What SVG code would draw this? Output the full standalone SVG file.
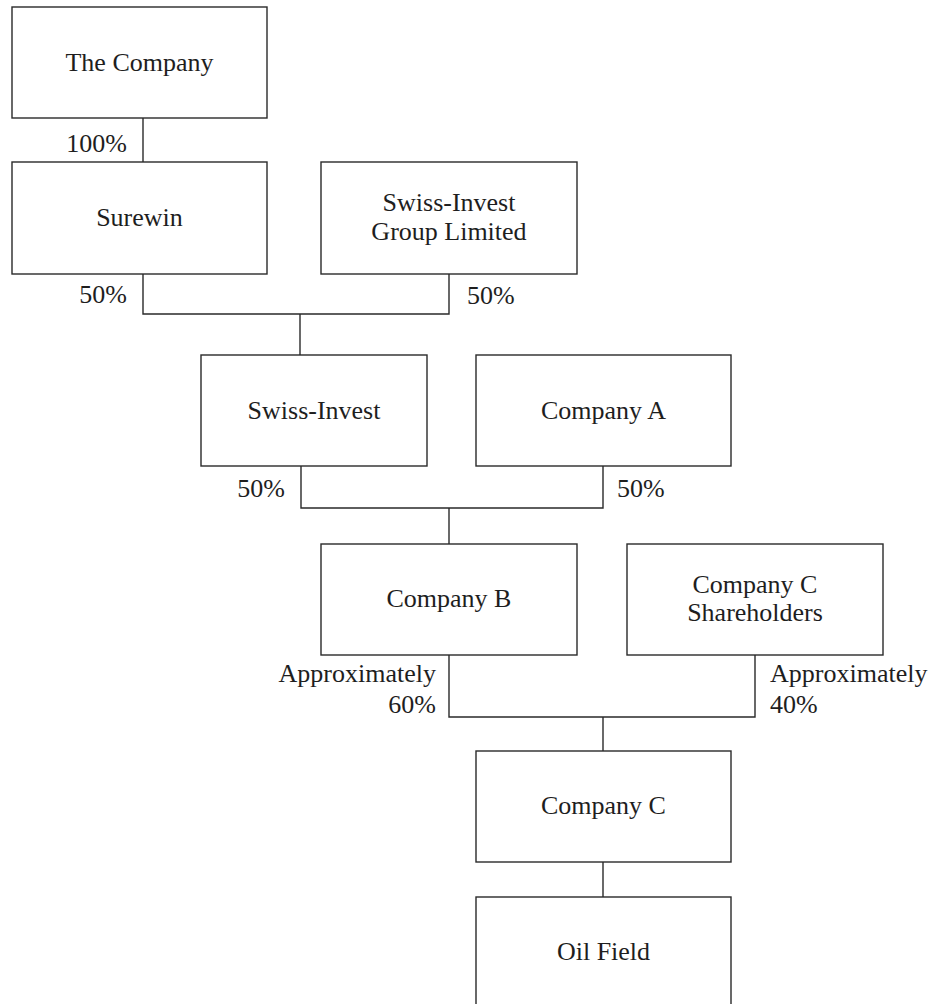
<svg xmlns="http://www.w3.org/2000/svg" width="932" height="1004" viewBox="0 0 932 1004">
<style>
.box{fill:#fff;stroke:#2a2a2a;stroke-width:1.4}
.ln{fill:none;stroke:#2a2a2a;stroke-width:1.4}
text{font-family:"Liberation Serif","Times New Roman",serif;font-size:26px;fill:#1e1e1e}
.c{text-anchor:middle}
.r{text-anchor:end}
</style>
<rect width="932" height="1004" fill="#fff"/>
<g id="connectors">
<path class="ln" d="M143,118V162"/>
<path class="ln" d="M143,274V314H449V274"/>
<path class="ln" d="M300,314V355"/>
<path class="ln" d="M301,466V508H603V466"/>
<path class="ln" d="M449,508V544"/>
<path class="ln" d="M449,655V717H755V655"/>
<path class="ln" d="M603,717V751"/>
<path class="ln" d="M603,862V897"/>
</g>
<g id="labels">
<text class="r" x="127" y="152">100%</text>
<text class="r" x="127" y="303">50%</text>
<text x="467" y="304">50%</text>
<text class="r" x="285" y="497">50%</text>
<text x="617" y="497">50%</text>
<text class="r" x="436" y="682">Approximately</text>
<text class="r" x="436" y="713">60%</text>
<text x="770" y="682">Approximately</text>
<text x="770" y="713">40%</text>
</g>
<g id="the-company"><rect class="box" x="12" y="7" width="255" height="111"/><text class="c" x="139.5" y="71">The Company</text></g>
<g id="surewin"><rect class="box" x="12" y="162" width="255" height="112"/><text class="c" x="139.5" y="226">Surewin</text></g>
<g id="swiss-invest-group"><rect class="box" x="321" y="162" width="256" height="112"/><text class="c" x="449" y="211">Swiss-Invest</text><text class="c" x="449" y="240">Group Limited</text></g>
<g id="swiss-invest"><rect class="box" x="201" y="355" width="226" height="111"/><text class="c" x="314" y="419">Swiss-Invest</text></g>
<g id="company-a"><rect class="box" x="476" y="355" width="255" height="111"/><text class="c" x="603.5" y="419">Company A</text></g>
<g id="company-b"><rect class="box" x="321" y="544" width="256" height="111"/><text class="c" x="449" y="607">Company B</text></g>
<g id="company-c-shareholders"><rect class="box" x="627" y="544" width="256" height="111"/><text class="c" x="755" y="593">Company C</text><text class="c" x="755" y="621">Shareholders</text></g>
<g id="company-c"><rect class="box" x="476" y="751" width="255" height="111"/><text class="c" x="603.5" y="814">Company C</text></g>
<g id="oil-field"><rect class="box" x="476" y="897" width="255" height="120"/><text class="c" x="603.5" y="960">Oil Field</text></g>
</svg>
